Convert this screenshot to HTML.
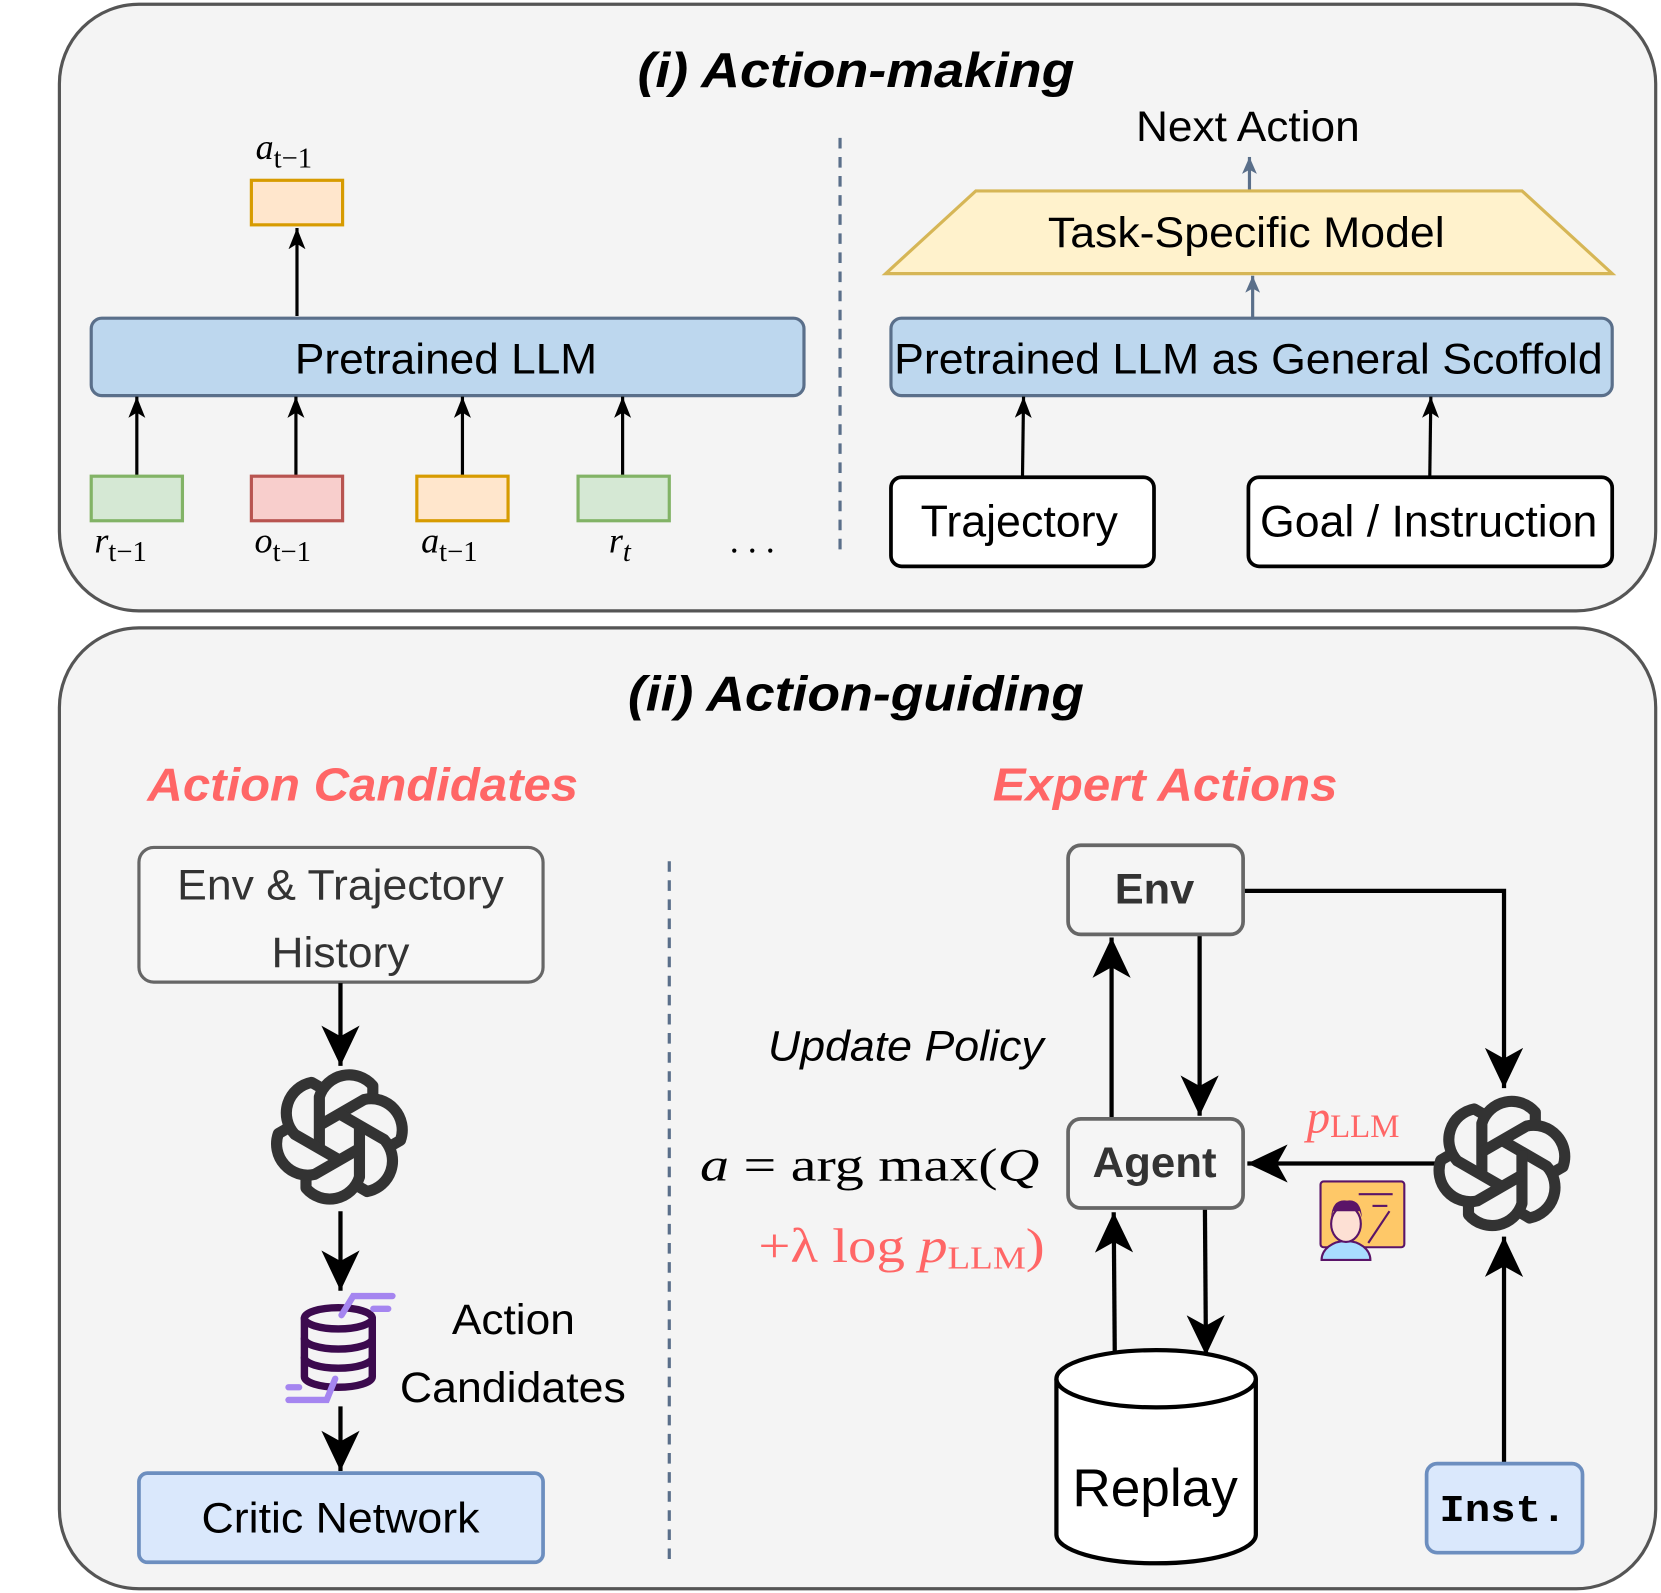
<!DOCTYPE html>
<html><head><meta charset="utf-8">
<style>
html,body{margin:0;padding:0;background:#fff;}
svg{display:block;}
text{font-family:"Liberation Sans",sans-serif;}
.serif{font-family:"Liberation Serif",serif;}
.mono{font-family:"Liberation Mono",monospace;}
</style></head>
<body>
<svg width="1661" height="1593" viewBox="0 0 1566 1502" preserveAspectRatio="none" xmlns="http://www.w3.org/2000/svg">
<defs>
<marker id="sm" markerUnits="userSpaceOnUse" markerWidth="20" markerHeight="20" refX="20" refY="8" orient="auto">
<path d="M0,0 L20,8 L0,16 L5,8 z" fill="#000"/></marker>
<marker id="smb" markerUnits="userSpaceOnUse" markerWidth="16" markerHeight="16" refX="16" refY="7" orient="auto">
<path d="M0,0 L16,7 L0,14 L4,7 z" fill="#5a6f8a"/></marker>
<marker id="big" markerUnits="userSpaceOnUse" markerWidth="40" markerHeight="40" refX="38" refY="18" orient="auto">
<path d="M0,0 L38,18 L0,36 L10,18 z" fill="#000"/></marker>
<g id="logo" fill="none" stroke="#333" stroke-width="10" stroke-linejoin="round">
<g id="seg"><path d="M-18,12 L-18,-36 A28 28 0 0 1 30,-46 L30,-30"/></g>
<use href="#seg" transform="rotate(60)"/><use href="#seg" transform="rotate(120)"/>
<use href="#seg" transform="rotate(180)"/><use href="#seg" transform="rotate(240)"/>
<use href="#seg" transform="rotate(300)"/>
</g>
</defs>

<rect x="56" y="4" width="1505" height="572" rx="75" fill="#f4f4f4" stroke="#555" stroke-width="3"/>
<text x="601" y="82" font-size="46" font-weight="bold" font-style="italic" textLength="412" lengthAdjust="spacingAndGlyphs">(i) Action-making</text>
<line x1="792" y1="130" x2="792" y2="525" stroke="#5a6f8a" stroke-width="3" stroke-dasharray="10,8"/>

<text class="serif" x="241" y="150" font-size="34" font-style="italic">a<tspan font-size="27" font-style="normal" dy="8">t−1</tspan></text>
<rect x="237" y="170" width="86" height="42" fill="#ffe6cc" stroke="#d79b00" stroke-width="3"/>
<line x1="280" y1="298" x2="280" y2="215" stroke="#000" stroke-width="3" marker-end="url(#sm)"/>
<rect x="86" y="300" width="672" height="73" rx="10" fill="#bdd7ee" stroke="#5a6f8a" stroke-width="3"/>
<text x="278" y="352" font-size="40" textLength="285" lengthAdjust="spacingAndGlyphs">Pretrained LLM</text>
<g stroke="#000" stroke-width="3">
<line x1="129" y1="449" x2="129" y2="374" marker-end="url(#sm)"/>
<line x1="279" y1="449" x2="279" y2="374" marker-end="url(#sm)"/>
<line x1="436" y1="449" x2="436" y2="374" marker-end="url(#sm)"/>
<line x1="587" y1="449" x2="587" y2="374" marker-end="url(#sm)"/>
</g>
<rect x="86" y="449" width="86" height="42" fill="#d5e8d4" stroke="#82b366" stroke-width="3"/>
<rect x="237" y="449" width="86" height="42" fill="#f8cecc" stroke="#b85450" stroke-width="3"/>
<rect x="393" y="449" width="86" height="42" fill="#ffe6cc" stroke="#d79b00" stroke-width="3"/>
<rect x="545" y="449" width="86" height="42" fill="#d5e8d4" stroke="#82b366" stroke-width="3"/>
<text class="serif" font-size="34" font-style="italic" x="89" y="521">r<tspan font-size="27" font-style="normal" dy="8">t−1</tspan></text>
<text class="serif" font-size="34" font-style="italic" x="240" y="521">o<tspan font-size="27" font-style="normal" dy="8">t−1</tspan></text>
<text class="serif" font-size="34" font-style="italic" x="397" y="521">a<tspan font-size="27" font-style="normal" dy="8">t−1</tspan></text>
<text class="serif" font-size="34" font-style="italic" x="574" y="521">r<tspan font-size="27" dy="8">t</tspan></text>
<text class="serif" font-size="34" x="688" y="521">. . .</text>

<text x="1071" y="133" font-size="40" textLength="211" lengthAdjust="spacingAndGlyphs">Next Action</text>
<line x1="1178" y1="180" x2="1178" y2="148" stroke="#5a6f8a" stroke-width="3" marker-end="url(#smb)"/>
<polygon points="835,258 920,180 1435,180 1520,258" fill="#fff2cc" stroke="#d6b656" stroke-width="3"/>
<text x="988" y="233" font-size="40" textLength="374" lengthAdjust="spacingAndGlyphs">Task-Specific Model</text>
<line x1="1181" y1="299" x2="1181" y2="260" stroke="#5a6f8a" stroke-width="3" marker-end="url(#smb)"/>
<rect x="840" y="300" width="680" height="73" rx="10" fill="#bdd7ee" stroke="#5a6f8a" stroke-width="3"/>
<text x="843" y="352" font-size="40" textLength="668" lengthAdjust="spacingAndGlyphs">Pretrained LLM as General Scoffold</text>
<g stroke="#000" stroke-width="3">
<line x1="964" y1="450" x2="965" y2="374" marker-end="url(#sm)"/>
<line x1="1348" y1="450" x2="1349" y2="374" marker-end="url(#sm)"/>
</g>
<rect x="840" y="450" width="248" height="84" rx="10" fill="#fff" stroke="#000" stroke-width="3.5"/>
<text x="868" y="506" font-size="42" textLength="186" lengthAdjust="spacingAndGlyphs">Trajectory</text>
<rect x="1177" y="450" width="343" height="84" rx="10" fill="#fff" stroke="#000" stroke-width="3.5"/>
<text x="1188" y="506" font-size="42" textLength="318" lengthAdjust="spacingAndGlyphs">Goal / Instruction</text>

<rect x="56" y="592" width="1505" height="906" rx="75" fill="#f4f4f4" stroke="#555" stroke-width="3"/>
<text x="592" y="670" font-size="46" font-weight="bold" font-style="italic" textLength="430" lengthAdjust="spacingAndGlyphs">(ii) Action-guiding</text>
<text x="139" y="755" font-size="44" font-weight="bold" font-style="italic" fill="#ff6666" textLength="406" lengthAdjust="spacingAndGlyphs">Action Candidates</text>
<text x="936" y="755" font-size="44" font-weight="bold" font-style="italic" fill="#ff6666" textLength="325" lengthAdjust="spacingAndGlyphs">Expert Actions</text>
<line x1="631" y1="812" x2="631" y2="1472" stroke="#5a6f8a" stroke-width="3" stroke-dasharray="10,8"/>

<rect x="131" y="799" width="381" height="127" rx="14" fill="#f7f7f7" stroke="#666" stroke-width="3"/>
<text x="167" y="848" font-size="40" fill="#333" textLength="308" lengthAdjust="spacingAndGlyphs">Env &amp; Trajectory</text>
<text x="256" y="912" font-size="40" fill="#333" textLength="130" lengthAdjust="spacingAndGlyphs">History</text>
<g stroke="#000" stroke-width="4">
<line x1="321" y1="927" x2="321" y2="1005" marker-end="url(#big)"/>
<line x1="321" y1="1142" x2="321" y2="1217" marker-end="url(#big)"/>
<line x1="321" y1="1326" x2="321" y2="1387" marker-end="url(#big)"/>
</g>
<use href="#logo" transform="translate(320,1072) scale(1.05)"/>
<g fill="none" stroke="#3c0a4e" stroke-width="7" stroke-linecap="round">
<ellipse cx="319" cy="1243" rx="32" ry="10"/>
<path d="M287,1243 V1298 A32 10 0 0 0 351,1298 V1243"/>
<path d="M287,1262 A32 10 0 0 0 351,1262"/>
<path d="M287,1280 A32 10 0 0 0 351,1280"/>
</g>
<g fill="none" stroke="#a585f0" stroke-width="6" stroke-linecap="round">
<path d="M322,1240 L333,1222 L370,1222"/><path d="M352,1234 L366,1234"/>
<path d="M316,1300 L308,1320 L272,1320"/><path d="M272,1308 L282,1308"/>
</g>
<text x="426" y="1258" font-size="40" textLength="116" lengthAdjust="spacingAndGlyphs">Action</text>
<text x="377" y="1322" font-size="40" textLength="213" lengthAdjust="spacingAndGlyphs">Candidates</text>
<rect x="131" y="1389" width="381" height="84" rx="8" fill="#dae8fc" stroke="#6c8ebf" stroke-width="3.5"/>
<text x="190" y="1445" font-size="40" textLength="262" lengthAdjust="spacingAndGlyphs">Critic Network</text>

<g stroke="#000" stroke-width="4" fill="none">
<line x1="1048" y1="1054" x2="1048" y2="884" marker-end="url(#big)"/>
<line x1="1131" y1="882" x2="1131" y2="1052" marker-end="url(#big)"/>
<polyline points="1173,840 1418,840 1418,1026" marker-end="url(#big)"/>
<line x1="1355" y1="1097" x2="1176" y2="1097" marker-end="url(#big)"/>
<line x1="1418" y1="1380" x2="1418" y2="1166" marker-end="url(#big)"/>
<line x1="1136" y1="1139" x2="1137" y2="1278" marker-end="url(#big)"/>
<line x1="1051" y1="1275" x2="1050" y2="1143" marker-end="url(#big)"/>
</g>
<rect x="1007" y="797" width="165" height="84" rx="12" fill="#f5f5f5" stroke="#666" stroke-width="3.5"/>
<text x="1051" y="852" font-size="40" font-weight="bold" fill="#333" textLength="75" lengthAdjust="spacingAndGlyphs">Env</text>
<rect x="1007" y="1055" width="165" height="84" rx="12" fill="#f5f5f5" stroke="#666" stroke-width="3.5"/>
<text x="1030" y="1110" font-size="40" font-weight="bold" fill="#333" textLength="117" lengthAdjust="spacingAndGlyphs">Agent</text>
<use href="#logo" transform="translate(1416,1097) scale(1.05)"/>
<text x="724" y="1000" font-size="40" font-style="italic" textLength="260" lengthAdjust="spacingAndGlyphs">Update Policy</text>
<text class="serif" x="660" y="1113" font-size="44" textLength="320" lengthAdjust="spacingAndGlyphs"><tspan font-style="italic">a</tspan> = arg max(<tspan font-style="italic">Q</tspan></text>
<text class="serif" x="715" y="1190" font-size="46" fill="#ff6666" textLength="270" lengthAdjust="spacingAndGlyphs">+λ log <tspan font-style="italic">p</tspan><tspan font-size="30" dy="6">LLM</tspan><tspan dy="-6">)</tspan></text>
<text class="serif" x="1232" y="1068" font-size="44" fill="#ff6666" font-style="italic">p<tspan font-size="31" font-style="normal" dy="4">LLM</tspan></text>
<rect x="1245" y="1114" width="79" height="62" rx="3" fill="#fec868" stroke="#5a1468" stroke-width="2"/>
<g stroke="#5a1468" stroke-width="2" fill="none"><line x1="1281" y1="1126" x2="1313" y2="1126"/><line x1="1294" y1="1137" x2="1308" y2="1137"/><line x1="1310" y1="1142" x2="1290" y2="1172"/></g>
<path d="M1246,1188 A23 18 0 0 1 1292,1188 Z" fill="#a8dcff" stroke="#5a1468" stroke-width="2"/>
<ellipse cx="1269" cy="1154" rx="14" ry="17" fill="#fde0d4" stroke="#5a1468" stroke-width="2"/>
<path d="M1255,1148 Q1256,1130 1270,1132 Q1283,1130 1284,1148 L1282,1142 L1257,1142 Z" fill="#5a1468"/>
<path d="M996,1300 V1447 A94 27 0 0 0 1184,1447 V1300" fill="#fff" stroke="#000" stroke-width="4"/>
<ellipse cx="1090" cy="1300" rx="94" ry="27" fill="#fff" stroke="#000" stroke-width="4"/>
<text x="1011" y="1420" font-size="50" textLength="156" lengthAdjust="spacingAndGlyphs">Replay</text>
<rect x="1345" y="1380" width="147" height="84" rx="10" fill="#dae8fc" stroke="#6c8ebf" stroke-width="3.5"/>
<text class="mono" x="1357" y="1434" font-size="36" font-weight="bold" textLength="120" lengthAdjust="spacingAndGlyphs">Inst.</text>
</svg>
</body></html>
